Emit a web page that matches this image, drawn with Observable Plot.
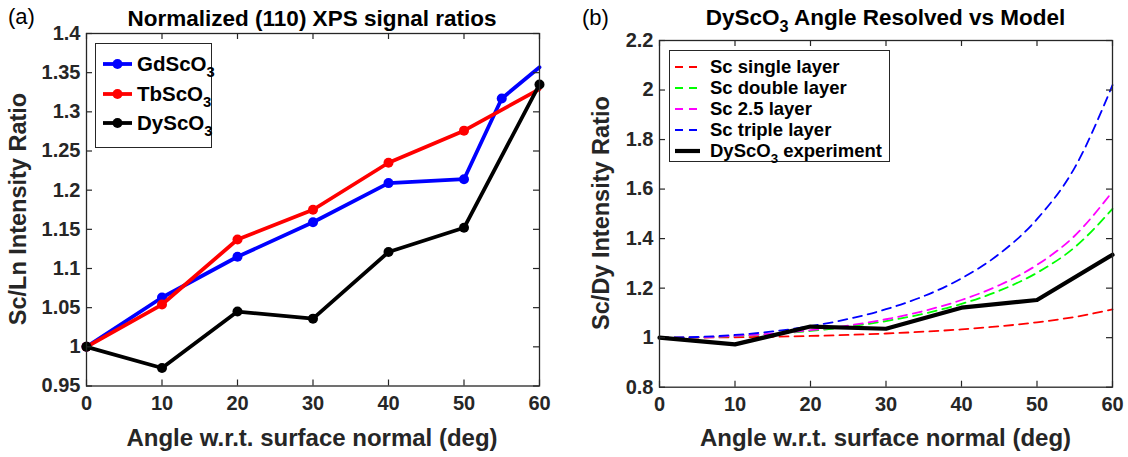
<!DOCTYPE html>
<html><head><meta charset="utf-8">
<script src="https://cdn.jsdelivr.net/npm/d3@7"></script>
<script src="https://cdn.jsdelivr.net/npm/@observablehq/plot@0.6"></script>
<style>
body{margin:0;background:#fff;}
#root{position:relative;width:1128px;height:457px;overflow:hidden;font-family:"Liberation Sans",Arial,Helvetica,sans-serif;color:#000;}
.abs{position:absolute;white-space:nowrap;line-height:1;}
.sub{position:relative;top:0.42em;font-size:0.72em;}
.box{position:absolute;border:1px solid #262626;background:#fff;box-sizing:border-box;}
</style></head><body><div id="root"></div>
<script>
// ---------- data ----------
const xTickValues = [0, 10, 20, 30, 40, 50, 60];
const xTickLabels = ["0", "10", "20", "30", "40", "50", "60"];
const yTickValuesA = [0.95, 1, 1.05, 1.1, 1.15, 1.2, 1.25, 1.3, 1.35, 1.4];
const yTickLabelsA = ["0.95", "1", "1.05", "1.1", "1.15", "1.2", "1.25", "1.3", "1.35", "1.4"];
const yTickValuesB = [0.8, 1, 1.2, 1.4, 1.6, 1.8, 2, 2.2];
const yTickLabelsB = ["0.8", "1", "1.2", "1.4", "1.6", "1.8", "2", "2.2"];

const gdAngles = [0, 10, 20, 30, 40, 50, 55, 60];
const gdRatio  = [1.0, 1.063, 1.115, 1.159, 1.209, 1.214, 1.317, 1.357];
const tbAngles = [0, 10, 20, 30, 40, 50, 60];
const tbRatio  = [1.0, 1.054, 1.137, 1.175, 1.235, 1.276, 1.329];
const dyAngles = [0, 10, 20, 30, 40, 50, 60];
const dyRatio  = [1.0, 0.973, 1.045, 1.036, 1.121, 1.152, 1.335];

const modelAngles = [0, 5, 10, 15, 20, 25, 30, 35, 40, 45, 50, 55, 60];
const scSingle = [1.0, 1.0004, 1.0017, 1.0038, 1.0069, 1.0112, 1.0169, 1.0241, 1.0335, 1.0458, 1.0619, 1.0837, 1.114];
const scDouble = [1.0, 1.0016, 1.0065, 1.0149, 1.0272, 1.0442, 1.0669, 1.0968, 1.1364, 1.1894, 1.262, 1.3652, 1.52];
const sc25     = [1.0, 1.0018, 1.0072, 1.0165, 1.0302, 1.0491, 1.0744, 1.1078, 1.1521, 1.2118, 1.2939, 1.4116, 1.59];
const scTriple = [1.0, 1.0027, 1.0109, 1.0251, 1.0462, 1.0754, 1.1149, 1.1676, 1.2396, 1.3379, 1.4786, 1.6868, 2.02];

const legendA = ["GdScO<span class='sub'>3</span>", "TbScO<span class='sub'>3</span>", "DyScO<span class='sub'>3</span>"];
const legendB = ["Sc single layer", "Sc double layer", "Sc 2.5 layer", "Sc triple layer", "DyScO<span class='sub'>3</span> experiment"];

// ---------- helpers ----------
const root = document.getElementById("root");
const toRows = (xs, ys) => xs.map((a, i) => ({angle: a, ratio: ys[i]}));
function label(html, x, yc, fs, {anchor = "start", weight = "bold", color = "#000", rotate = false} = {}) {
  const d = document.createElement("div");
  d.className = "abs";
  d.innerHTML = html;
  d.style.fontSize = fs + "px";
  d.style.fontWeight = weight;
  d.style.color = color;
  if (rotate) {
    d.style.left = x + "px"; d.style.top = yc + "px";
    d.style.transform = "translate(-50%,-50%) rotate(-90deg)";
  } else {
    d.style.left = x + "px";
    d.style.top = (yc - 0.482 * fs) + "px";
    if (anchor === "middle") d.style.transform = "translateX(-50%)";
  }
  root.appendChild(d);
  return d;
}
const AX = "#262626";
const FONT = '"Liberation Sans", Arial, Helvetica, sans-serif';
const TICKFS = 20;

function panel({left, width, mL, mR, mT, mB, yDomain, yTicks, yLabels, marks}) {
  const fw = width - mL - mR, fh = 457 - mT - mB, tl = 6;
  const p = Plot.plot({
    width, height: 457,
    marginLeft: mL, marginRight: mR, marginTop: mT, marginBottom: mB,
    x: {domain: [0, 60]},
    y: {domain: yDomain},
    style: {fontFamily: FONT, fontSize: TICKFS + "px", fontWeight: "bold", color: AX, background: "transparent", overflow: "visible"},
    marks: [
      ...marks,
      Plot.tickX(xTickValues, {x: d => d, insetTop: fh - tl, stroke: AX, strokeWidth: 1.2}),
      Plot.tickX(xTickValues, {x: d => d, insetBottom: fh - tl, stroke: AX, strokeWidth: 1.2}),
      Plot.tickY(yTicks, {y: d => d, insetRight: fw - tl, stroke: AX, strokeWidth: 1.2}),
      Plot.tickY(yTicks, {y: d => d, insetLeft: fw - tl, stroke: AX, strokeWidth: 1.2}),
      Plot.frame({stroke: AX, strokeWidth: 1.3}),
      Plot.axisX(xTickValues, {tickSize: 0, tickPadding: 10, label: null, fill: AX,
        tickFormat: d => xTickLabels[xTickValues.indexOf(d)]}),
      Plot.axisY(yTicks, {tickSize: 0, tickPadding: 6, label: null, fill: AX,
        tickFormat: d => yLabels[yTicks.indexOf(d)]})
    ]
  });
  const w = document.createElement("div");
  w.style.position = "absolute"; w.style.left = left + "px"; w.style.top = "0px";
  w.appendChild(p);
  root.appendChild(w);
}

// ---------- panel (a) ----------
const gd = toRows(gdAngles, gdRatio), tb = toRows(tbAngles, tbRatio), dy = toRows(dyAngles, dyRatio);
panel({
  left: 0, width: 564, mL: 86, mR: 25, mT: 33, mB: 71.5,
  yDomain: [0.95, 1.4], yTicks: yTickValuesA, yLabels: yTickLabelsA,
  marks: [
    Plot.line(gd, {x: "angle", y: "ratio", stroke: "#0000ff", strokeWidth: 3.8}),
    Plot.dot(gd.slice(0, -1), {x: "angle", y: "ratio", r: 5, fill: "#0000ff"}),
    Plot.line(tb, {x: "angle", y: "ratio", stroke: "#ff0000", strokeWidth: 3.8}),
    Plot.dot(tb.slice(0, -1), {x: "angle", y: "ratio", r: 5, fill: "#ff0000"}),
    Plot.line(dy, {x: "angle", y: "ratio", stroke: "#000000", strokeWidth: 3.8}),
    Plot.dot(dy, {x: "angle", y: "ratio", r: 5, fill: "#000000"})
  ]
});

// ---------- panel (b) ----------
const models = [
  {v: scSingle, c: "#ff0000"}, {v: scDouble, c: "#00ff00"},
  {v: sc25, c: "#ff00ff"}, {v: scTriple, c: "#0000ff"}
];
panel({
  left: 564, width: 564, mL: 95, mR: 16, mT: 40, mB: 70.3,
  yDomain: [0.8, 2.2], yTicks: yTickValuesB, yLabels: yTickLabelsB,
  marks: [
    ...models.map(m => Plot.line(toRows(modelAngles, m.v), {x: "angle", y: "ratio", stroke: m.c, strokeWidth: 1.8, strokeDasharray: "9,6", curve: "monotone-x"})),
    Plot.line(dy, {x: "angle", y: "ratio", stroke: "#000000", strokeWidth: 4.2})
  ]
});

// ---------- titles & labels ----------
label("(a)", 8, 17, 22, {weight: "normal"});
label("(b)", 582, 18, 22, {weight: "normal"});
label("Normalized (110) XPS signal ratios", 312, 18.5, 22.5, {anchor: "middle"});
label("DyScO<span class='sub'>3</span> Angle Resolved vs Model", 885.5, 18, 22.5, {anchor: "middle"});
label("Angle w.r.t. surface normal (deg)", 312, 438, 24, {anchor: "middle", color: AX});
label("Angle w.r.t. surface normal (deg)", 885.5, 438, 24, {anchor: "middle", color: AX});
label("Sc/Ln Intensity Ratio", 19, 209, 23.5, {rotate: true, color: AX});
label("Sc/Dy Intensity Ratio", 602, 213, 23.5, {rotate: true, color: AX});

// ---------- legends ----------
function legendBox(x0, y0, x1, y1) {
  const b = document.createElement("div");
  b.className = "box";
  Object.assign(b.style, {left: x0 + "px", top: y0 + "px", width: (x1 - x0) + "px", height: (y1 - y0) + "px"});
  root.appendChild(b);
  const s = d3.create("svg").attr("width", 1128).attr("height", 457)
    .style("position", "absolute").style("left", "0px").style("top", "0px").style("overflow", "visible");
  root.appendChild(s.node());
  return s;
}
const sA = legendBox(95, 43, 212, 148);
const colA = ["#0000ff", "#ff0000", "#000000"];
const rowA = [64, 94, 123];
legendA.forEach((t, i) => {
  sA.append("line").attr("x1", 103).attr("x2", 132).attr("y1", rowA[i]).attr("y2", rowA[i]).attr("stroke", colA[i]).attr("stroke-width", 3.8);
  sA.append("circle").attr("cx", 117.5).attr("cy", rowA[i]).attr("r", 5).attr("fill", colA[i]);
  label(t, 137, rowA[i], 20.5);
});
const sB = legendBox(669, 50, 890, 162);
const colB = ["#ff0000", "#00ff00", "#ff00ff", "#0000ff", "#000000"];
const rowB = [67, 88, 109, 130, 151];
legendB.forEach((t, i) => {
  const ln = sB.append("line").attr("x1", 675).attr("x2", 697).attr("y1", rowB[i]).attr("y2", rowB[i]).attr("stroke", colB[i]);
  if (i < 4) ln.attr("stroke-width", 1.8).attr("stroke-dasharray", "8,6");
  else ln.attr("stroke-width", 4.2).attr("x2", 700);
  label(t, 710, rowB[i], 18.5);
});
</script></body></html>
